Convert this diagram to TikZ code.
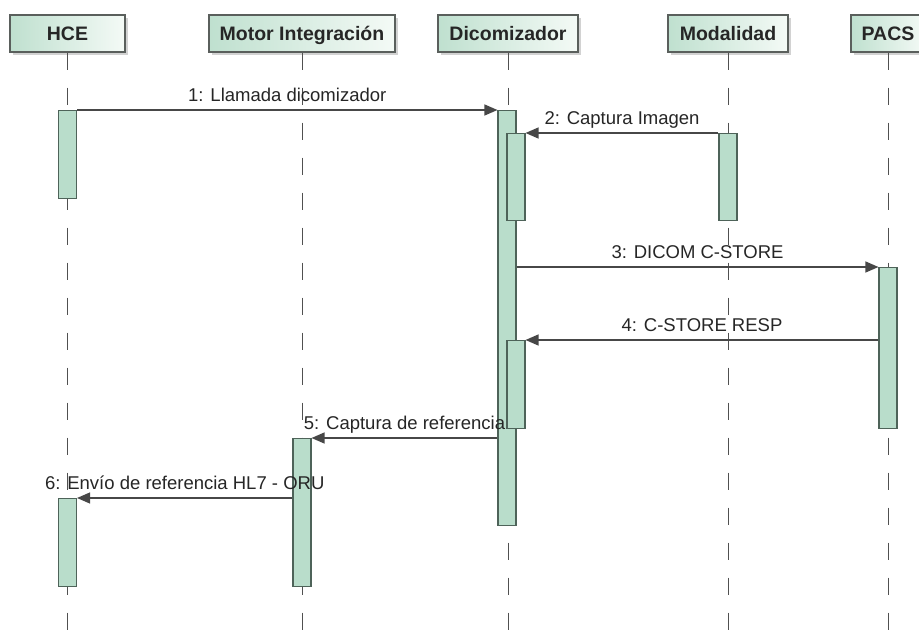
\documentclass[tikz,border=0pt]{standalone}
\usepackage{fontspec}
\setmainfont{Liberation Sans}
\usetikzlibrary{arrows.meta,shadows}

\definecolor{hdrline}{HTML}{5A5F5C}
\definecolor{hdrL}{HTML}{BFE0CF}
\definecolor{hdrR}{HTML}{F4FAF6}
\definecolor{lifec}{HTML}{505050}
\definecolor{actfill}{HTML}{B9DDCB}
\definecolor{actline}{HTML}{4E6359}
\definecolor{msgc}{HTML}{474747}
\definecolor{txt}{HTML}{262626}

\tikzset{
  hdr/.style={draw=hdrline, line width=1.1pt, left color=hdrL, right color=hdrR,
    minimum height=37pt, inner sep=0pt, text=txt,
    text height=14pt, text depth=0pt,
    font=\fontsize{19.5}{22}\selectfont\bfseries,
    drop shadow={shadow xshift=3pt, shadow yshift=-3pt, fill=black!35}},
  life/.style={draw=lifec, line width=1pt, dash pattern=on 17pt off 18pt},
  act/.style={draw=actline, fill=actfill, line width=1.1pt, minimum width=18pt,
    inner sep=0pt, anchor=north},
  msg/.style={draw=msgc, line width=1.3pt, -{Triangle[length=13pt,width=11pt]}},
  lbl/.style={font=\fontsize{18.5}{22}\selectfont, text=txt, anchor=base,
    inner sep=0pt, yshift=8.5pt},
}

\begin{document}
\begin{tikzpicture}[x=1pt, y=-1pt]
  \fill[white] (0,0) rectangle (919,644);
  \clip (0,0) rectangle (919,644);

  % participants
  \node[hdr, minimum width=115pt] (hce)  at (67.5,33.5) {HCE};
  \node[hdr, minimum width=186pt] (mot)  at (302,33.5)  {Motor Integración};
  \node[hdr, minimum width=140pt] (dic)  at (508,33.5)  {Dicomizador};
  \node[hdr, minimum width=120pt] (mod)  at (728,33.5)  {Modalidad};
  \node[hdr, minimum width=74pt]  (pacs) at (888,33.5)  {PACS};

  % lifeline ends
  \coordinate (hceEnd)  at (67.5,650);
  \coordinate (motEnd)  at (302,650);
  \coordinate (dicEnd)  at (508,650);
  \coordinate (modEnd)  at (728,650);
  \coordinate (pacsEnd) at (888,650);

  \draw[life] (hce.south)  -- (hceEnd);
  \draw[life] (mot.south)  -- (motEnd);
  \draw[life] (dic.south)  -- (dicEnd);
  \draw[life] (mod.south)  -- (modEnd);
  \draw[life] (pacs.south) -- (pacsEnd);

  % activation bars
  \node[act, minimum height=88pt]  (hceA)  at (67.5,110) {};
  \node[act, minimum height=88pt]  (hceB)  at (67.5,498) {};
  \node[act, minimum height=148pt] (motA)  at (302,438)  {};
  \node[act, minimum height=415pt] (dicA)  at (507,110)  {};
  \node[act, minimum height=87pt]  (dicB)  at (516,133)  {};
  \node[act, minimum height=88pt]  (dicC)  at (516,340)  {};
  \node[act, minimum height=87pt]  (modA)  at (728,133)  {};
  \node[act, minimum height=161pt] (pacsA) at (888,267)  {};

  % messages
  \draw[msg] (hceA.north east) -- node[lbl]{1: Llamada dicomizador} (dicA.north west);
  \draw[msg] (modA.north west) -- node[lbl]{2: Captura Imagen} (dicB.north east);
  \draw[msg] (dicA.east |- pacsA.north) -- node[lbl]{3: DICOM C-STORE} (pacsA.north west);
  \draw[msg] (pacsA.west |- dicC.north) -- node[lbl]{4: C-STORE RESP} (dicC.north east);
  \draw[msg] (dicA.west |- motA.north) -- node[lbl]{5: Captura de referencia} (motA.north east);
  \draw[msg] (motA.west |- hceB.north) -- node[lbl]{6: Envío de referencia HL7 - ORU} (hceB.north east);
\end{tikzpicture}
\end{document}
